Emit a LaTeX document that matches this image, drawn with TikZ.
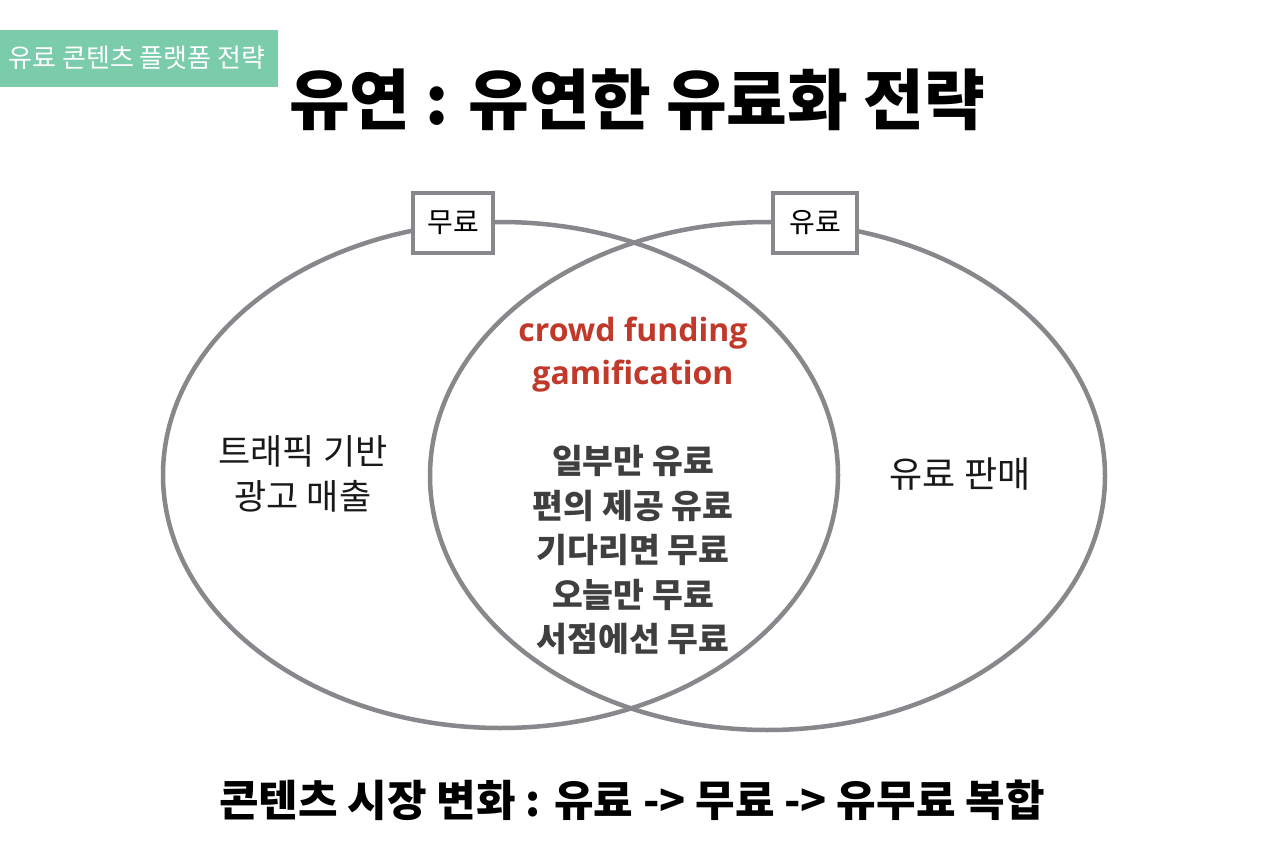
\documentclass[tikz,border=0pt]{standalone}
\usepackage{fontspec}
\setmainfont{Noto Sans CJK KR}
\newfontfamily\latinfont{Open Sans}
\definecolor{badge}{HTML}{7ACCAA}
\definecolor{ring}{HTML}{88878B}
\definecolor{redtxt}{HTML}{C0392B}
\definecolor{midtxt}{HTML}{3F3F3F}
\tikzset{
  ringline/.style={draw=ring, line width=4.5pt},
  tagbox/.style={draw=ring, line width=4pt, fill=white, minimum height=60pt, inner sep=0pt, font=\fontsize{28}{30}\selectfont},
  plain/.style={align=center, inner sep=0pt, text=black!90, font=\fontsize{35}{45}\selectfont},
  midbold/.style={align=center, inner sep=0pt, text=midtxt, font=\bfseries\fontsize{33.5}{44.5}\selectfont},
}
\begin{document}
\begin{tikzpicture}[x=1pt,y=-1pt]
\path[use as bounding box, fill=white] (0,0) rectangle (1270,859);
% badge
\fill[badge] (0,30) rectangle (278,87);
\node[text=white, inner sep=0pt, font=\fontsize{26}{28}\selectfont] (badge) at (137,58) {유료 콘텐츠 플랫폼 전략};
% title
\node[inner sep=0pt, font=\bfseries\fontsize{66}{70}\selectfont] (title) at (637,100) {유연 : 유연한 유료화 전략};
% ellipses
\draw[ringline] (500.5,475) ellipse [x radius=337.5, y radius=253];
\draw[ringline] (767.5,476) ellipse [x radius=337.5, y radius=254];
% tags
\node[tagbox, minimum width=80pt] (free) at (453,223) {무료};
\node[tagbox, minimum width=84pt] (paid) at (815,223) {유료};
% texts
\node[plain] (left) at (303,474) {트래픽 기반\\광고 매출};
\node[font=\fontsize{36}{40}\selectfont, inner sep=0pt, text=black!90] (right) at (960,474) {유료 판매};
\node[align=center, inner sep=0pt, text=redtxt, font=\latinfont\bfseries\fontsize{32}{43}\selectfont] (red) at (633,355) {crowd funding\\gamification};
\node[midbold] (mid) at (633,550) {일부만 유료\\편의 제공 유료\\기다리면 무료\\오늘만 무료\\서점에선 무료};
% bottom
\node[inner sep=0pt, font=\bfseries\fontsize{43}{46}\selectfont] (bottom) at (632,800) {콘텐츠 시장 변화 : 유료 -> 무료 -> 유무료 복합};
\end{tikzpicture}
\end{document}
